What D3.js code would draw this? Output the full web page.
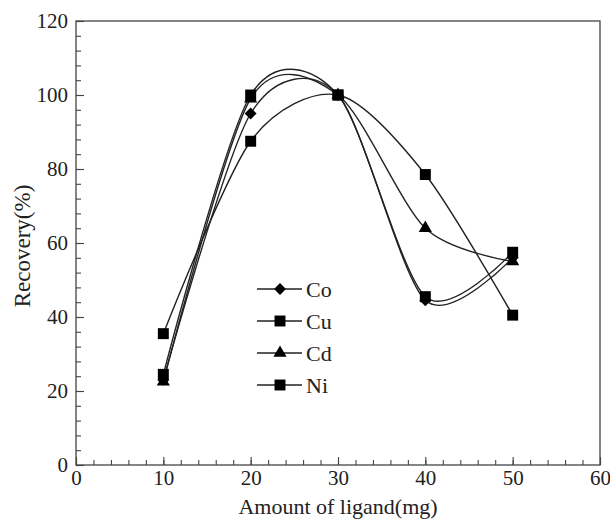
<!DOCTYPE html>
<html>
<head>
<meta charset="utf-8">
<script src="https://cdn.jsdelivr.net/npm/d3@7"></script>
<style>
  body { margin: 0; background: #fff; }
  svg text { font-family: "Liberation Serif", "DejaVu Serif", serif; fill: #222; }
</style>
</head>
<body>
<svg id="chart" width="610" height="521"></svg>
<script>
// amount of ligand (mg)
var amounts = [10, 20, 30, 40, 50];
// recovery (%) per metal
var coValues = [23, 95, 100, 44.5, 56];
var cuValues = [35.5, 87.5, 100, 78.5, 40.5];
var cdValues = [22.5, 99, 100, 64, 55];
var niValues = [24.5, 100, 100, 45.5, 57.5];
var seriesNames = ["Co", "Cu", "Cd", "Ni"];
var seriesSymbols = ["diamond", "square", "triangle", "square"];
var xTicks = [0, 10, 20, 30, 40, 50, 60];
var yTicks = [0, 20, 40, 60, 80, 100, 120];

var allValues = [coValues, cuValues, cdValues, niValues];

var svg = d3.select("#chart"),
	pLeft = 76, pRight = 600, pTop = 21, pBottom = 465;

var x = d3.scaleLinear().domain([0, 60]).range([pLeft, pRight]);
var y = d3.scaleLinear().domain([0, 120]).range([pBottom, pTop]);

var axisColor = "#444";
var serif = "Liberation Serif, DejaVu Serif, serif";

// frame
svg.append("rect")
	.attr("x", pLeft).attr("y", pTop)
	.attr("width", pRight - pLeft).attr("height", pBottom - pTop)
	.attr("fill", "none").attr("stroke", axisColor).attr("stroke-width", 1.3);

// x axis: minor ticks every 2, pointing inward
var xAxis = svg.append("g").attr("transform", "translate(0," + pBottom + ")");
xAxis.call(d3.axisBottom(x).tickValues(d3.range(0, 61, 2)).tickSize(-5).tickFormat(""));
xAxis.append("g").call(d3.axisBottom(x).tickValues(xTicks).tickSize(-8).tickPadding(5).tickFormat(d3.format("d")));
xAxis.selectAll("path.domain").remove();
xAxis.attr("font-family", serif);
xAxis.selectAll("g").attr("font-family", serif);
xAxis.selectAll("line").attr("stroke", axisColor).attr("stroke-width", 1.1);
xAxis.selectAll("text").attr("font-size", 21).attr("fill", "#222");

// y axis: minor ticks every 4
var yAxis = svg.append("g").attr("transform", "translate(" + pLeft + ",0)");
yAxis.call(d3.axisLeft(y).tickValues(d3.range(0, 121, 4)).tickSize(-5).tickFormat(""));
yAxis.append("g").call(d3.axisLeft(y).tickValues(yTicks).tickSize(-8).tickPadding(8).tickFormat(d3.format("d")));
yAxis.selectAll("path.domain").remove();
yAxis.attr("font-family", serif);
yAxis.selectAll("g").attr("font-family", serif);
yAxis.selectAll("line").attr("stroke", axisColor).attr("stroke-width", 1.1);
yAxis.selectAll("text").attr("font-size", 21).attr("fill", "#222");

// axis titles
svg.append("text")
	.attr("x", 338).attr("y", 514)
	.attr("text-anchor", "middle").attr("font-size", 22)
	.text("Amount of ligand(mg)");
svg.append("text")
	.attr("transform", "translate(30,246) rotate(-90)")
	.attr("text-anchor", "middle").attr("font-size", 23)
	.text("Recovery(%)");

var symbolTypes = { diamond: d3.symbolDiamond2, square: d3.symbolSquare, triangle: d3.symbolTriangle };
var symbolSizes = { diamond: 90, square: 120, triangle: 75 };

function symbolPath(name) {
	return d3.symbol().type(symbolTypes[name]).size(symbolSizes[name])();
}

var line = d3.line()
	.x(function(d, i) { return x(amounts[i]); })
	.y(function(d) { return y(d); })
	.curve(d3.curveCardinal.tension(0.15));

// lines first, then markers
allValues.forEach(function(vals) {
	svg.append("path")
		.attr("d", line(vals))
		.attr("fill", "none").attr("stroke", "#222").attr("stroke-width", 1.4);
});
allValues.forEach(function(vals, s) {
	svg.append("g").selectAll("path")
		.data(vals).enter().append("path")
		.attr("transform", function(d, i) { return "translate(" + x(amounts[i]) + "," + y(d) + ")"; })
		.attr("d", symbolPath(seriesSymbols[s]))
		.attr("fill", "#000");
});

// legend
var legend = svg.append("g");
seriesNames.forEach(function(name, i) {
	var ly = 289 + i * 32;
	legend.append("line")
		.attr("x1", 257).attr("x2", 302).attr("y1", ly).attr("y2", ly)
		.attr("stroke", "#222").attr("stroke-width", 1.3);
	legend.append("path")
		.attr("transform", "translate(280," + ly + ")")
		.attr("d", symbolPath(seriesSymbols[i]))
		.attr("fill", "#000");
	legend.append("text")
		.attr("x", 306).attr("y", ly).attr("dy", "0.35em")
		.attr("font-size", 22)
		.text(name);
});
</script>
</body>
</html>
